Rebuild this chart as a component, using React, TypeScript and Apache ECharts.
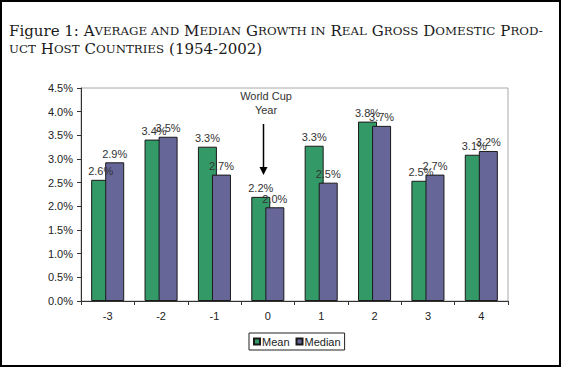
import React, { useEffect, useRef } from "react";
import * as echarts from "echarts";

const categories = ["-3", "-2", "-1", "0", "1", "2", "3", "4"];
const meanValues = [2.56, 3.41, 3.26, 2.2, 3.28, 3.79, 2.54, 3.09];
const medianValues = [2.93, 3.47, 2.67, 1.98, 2.5, 3.7, 2.67, 3.17];
const seriesNames = ["Mean", "Median"];
const yMin = 0;
const yMax = 4.5;
const yInterval = 0.5;

const titleLine1 =
  "{n|Figure 1: }{b|A}{s|VERAGE AND} {b|M}{s|EDIAN} {b|G}{s|ROWTH IN} {b|R}{s|EAL} {b|G}{s|ROSS} {b|D}{s|OMESTIC} {b|P}{s|ROD-}";
const titleLine2 = "{s|UCT} {b|H}{s|OST} {b|C}{s|OUNTRIES} {n|(1954-2002)}";

const SANS = "Arial, 'Liberation Sans', sans-serif";
const SERIF = "'DejaVu Serif', 'Liberation Serif', serif";

export default function App() {
  const ref = useRef<HTMLDivElement>(null);
  useEffect(() => {
    document.body.style.margin = "0";
    const chart = echarts.init(ref.current!, null, { renderer: "svg" });
    const labelCommon = {
      show: true,
      position: "top" as const,
      distance: 3,
      color: "#333",
      fontFamily: SANS,
      fontSize: 11,
      formatter: (p: any) => Number(p.value).toFixed(1) + "%",
    };
    const titleStyle = (size: number) => ({
      fontFamily: SERIF,
      fontSize: size,
      fontWeight: "normal",
      color: "#1a1a1a",
      lineHeight: 18,
    });
    chart.setOption({
      animation: false,
      backgroundColor: "#fff",
      title: {
        left: 9,
        top: 22,
        padding: 0,
        text: titleLine1 + "\n" + titleLine2,
        textStyle: {
          fontWeight: "normal",
          rich: {
            n: titleStyle(15),
            b: titleStyle(15),
            s: titleStyle(11.8),
          },
        },
      },
      grid: {
        left: 81,
        right: 54,
        top: 88,
        bottom: 67,
        show: true,
        borderColor: "#a8a8a8",
        borderWidth: 1,
        containLabel: false,
      },
      legend: {
        left: 249,
        top: 333,
        orient: "horizontal",
        data: seriesNames,
        icon: "rect",
        itemWidth: 6,
        itemHeight: 6,
        itemGap: 6,
        padding: [3, 4],
        borderColor: "#222",
        borderWidth: 1,
        textStyle: { fontFamily: SANS, fontSize: 11, color: "#222", padding: [0, 0, 0, -3] },
      },
      xAxis: {
        type: "category",
        data: categories,
        axisLine: { show: true, lineStyle: { color: "#333", width: 1 } },
        axisTick: { show: true, length: 4, lineStyle: { color: "#333" } },
        axisLabel: { color: "#222", fontFamily: SANS, fontSize: 11, margin: 9 },
      },
      yAxis: {
        type: "value",
        min: yMin,
        max: yMax,
        interval: yInterval,
        axisLine: { show: true, lineStyle: { color: "#333", width: 1 } },
        axisTick: { show: true, length: 4, lineStyle: { color: "#333" } },
        splitLine: { show: false },
        axisLabel: {
          color: "#222",
          fontFamily: SANS,
          fontSize: 11,
          margin: 8,
          formatter: (v: number) => v.toFixed(1) + "%",
        },
      },
      series: [
        {
          name: seriesNames[0],
          type: "bar",
          data: meanValues,
          barWidth: 19,
          barGap: "-26%",
          itemStyle: { color: "#339966", borderColor: "#1a1a1a", borderWidth: 1 },
          label: labelCommon,
        },
        {
          name: seriesNames[1],
          type: "bar",
          data: medianValues,
          barWidth: 19,
          barGap: "-26%",
          itemStyle: { color: "#666699", borderColor: "#1a1a1a", borderWidth: 1 },
          label: labelCommon,
        },
      ],
      graphic: [
        {
          type: "rect",
          shape: { x: 1, y: 1, width: 559, height: 365 },
          style: { fill: "none", stroke: "#000", lineWidth: 2 },
          silent: true,
        },
        {
          type: "text",
          x: 266,
          y: 103,
          style: {
            text: "World Cup\nYear",
            fill: "#333",
            font: "11px Arial, 'Liberation Sans', sans-serif",
            lineHeight: 14,
            align: "center",
            verticalAlign: "middle",
          },
        },
        {
          type: "line",
          shape: { x1: 263.5, y1: 124, x2: 263.5, y2: 169 },
          style: { stroke: "#000", lineWidth: 1.5 },
        },
        {
          type: "polygon",
          shape: { points: [[259.5, 167], [267.5, 167], [263.5, 175]] },
          style: { fill: "#000" },
        },
      ],
    });
    return () => chart.dispose();
  }, []);
  return (
    <div
      ref={ref}
      style={{ position: "absolute", left: 0, top: 0, width: 562, height: 368 }}
    />
  );
}
